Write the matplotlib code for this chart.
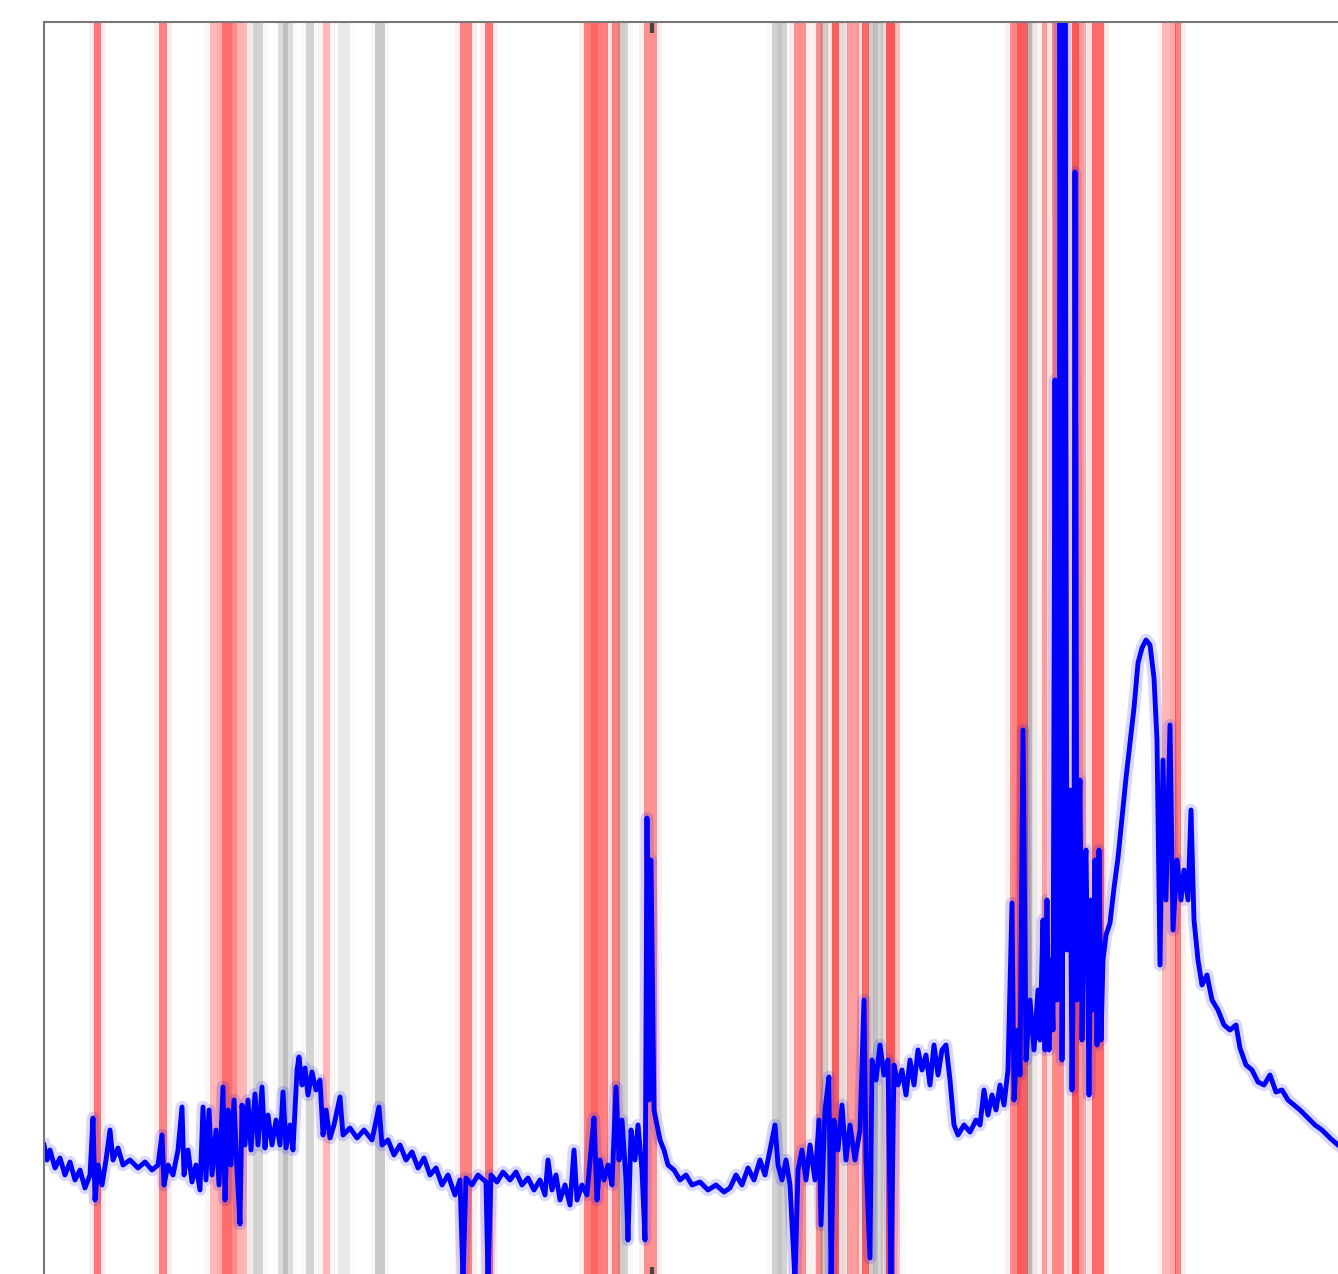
import numpy as np
import matplotlib
matplotlib.use("Agg")
import matplotlib.pyplot as plt

# time index (x) and signal value (y)
sig_x = [0, 0.6, 1.2, 2.2, 3.2, 4.2, 5.2, 6.2, 7.2, 8.2, 9.2, 9.8, 10.2, 10.8, 11.6, 12.4,
         13.2, 13.8, 14.8, 15.8, 17.2, 18.8, 20.2, 21.6, 22.8, 23.6, 24.0, 24.8, 25.8, 26.8,
         27.6, 28.0, 28.8, 29.6, 30.4, 31.2, 31.8, 32.4, 33.0, 33.6, 34.4, 35.0, 35.8, 36.2,
         36.8, 37.4, 38.0, 38.6, 39.2, 39.6, 40.2, 40.8, 41.4, 42.2, 42.8, 43.6, 44.2, 44.8,
         45.6, 46.4, 47.2, 47.8, 48.4, 49.2, 49.8, 50.6, 51.0, 51.6, 52.2, 52.8, 53.6, 54.4,
         55.2, 55.8, 56.4, 57.2, 58.0, 59.2, 59.8, 61.2, 62.6, 64.0, 65.6, 67.0, 67.6, 68.8,
         70.0, 71.2, 72.4, 73.6, 74.8, 76.0, 77.2, 78.4, 79.6, 80.8, 82.2, 83.2, 83.8, 84.4,
         85.6, 86.8, 88.4, 88.8, 89.4, 90.6, 91.8, 93.2, 94.4, 95.6, 96.8, 98.0, 99.2, 100.2,
         100.8, 101.6, 102.4, 103.2, 104.2, 105.2, 106.0, 106.6, 107.6, 108.6, 109.4, 110.0,
         110.6, 111.2, 112.0, 112.8, 113.6, 114.4, 115.0, 115.6, 116.4, 116.8, 117.4, 118.2,
         118.8, 119.6, 120.2, 120.6, 121.0, 121.4, 122.0, 122.6, 123.2, 124.0, 124.8, 126.0,
         127.2, 128.4, 129.6, 131.2, 132.8, 134.4, 136.0, 137.2, 138.4, 139.6, 140.8, 142.0,
         143.2, 144.2, 145.2, 146.2, 146.8, 147.6, 148.4, 149.2, 150.2, 150.8, 151.6, 152.4,
         153.2, 154.2, 155.0, 155.4, 156.2, 157.0, 157.4, 158.0, 158.8, 159.6, 160.4, 161.2,
         162.2, 163.2, 164.0, 164.4, 165.2, 165.6, 166.4, 167.2, 168.0, 168.8, 169.4, 170.0,
         170.8, 171.6, 172.4, 173.2, 174.0, 174.8, 175.6, 176.4, 177.2, 178.0, 178.8, 179.6,
         180.4, 181.2, 182.0, 182.8, 184.0, 185.2, 186.4, 187.2, 188.0, 188.8, 189.6, 190.4,
         191.2, 192.0, 192.8, 193.6, 194.0, 194.8, 195.2, 195.8, 196.4, 197.2, 198.0, 198.8,
         199.2, 199.8, 200.2, 200.6, 201.0, 201.4, 201.8, 202.2, 202.6, 203.0,
         203.2, 203.6, 204.0, 204.2, 204.6, 204.8, 205.2, 205.6, 206.0, 206.2,
         206.6, 207.0, 207.2, 207.6, 208.0, 208.4, 208.8, 209.0, 209.4, 209.8,
         210.2, 210.6, 211.0, 211.4, 211.8, 212.4, 213.2,
         214.0, 214.8, 215.6, 216.4, 217.2, 218.0, 218.8, 219.6, 220.4, 221.2, 222.0, 222.6,
         223.2, 223.8, 224.4, 225.2, 225.8, 226.6, 227.4, 228.0, 228.8, 229.4, 230.0, 230.8,
         231.6, 232.6, 233.6, 234.8, 236.0, 237.2, 238.4, 239.2, 240.4, 241.6, 242.8, 244.0,
         245.2, 246.4, 247.6, 248.8, 250.0, 251.2, 252.8, 254.2, 255.6, 257.2, 258.8, 260.2]
sig_y = [26.6, 23.6, 25.6, 22, 24, 20.6, 23.2, 19.6, 21.6, 18, 20.6, 32, 15.6, 22.6, 18.6, 23.6,
         29.6, 23.6, 26, 22.6, 23.6, 22, 23.2, 21.6, 22.6, 28.6, 18.6, 22.6, 20.6, 25.6,
         34.2, 20.6, 25.6, 19.2, 22.6, 17.6, 34.2, 19.6, 33.6, 20.6, 29.6, 18.6, 38.2, 15.6,
         33.6, 22.6, 35.6, 21.6, 10.8, 34.6, 26.6, 35.6, 25.6, 36.8, 26.6, 38.2, 26, 32.6,
         26.6, 31.6, 26.6, 37.2, 26, 30.6, 25.6, 41.6, 44.2, 38.6, 42, 36.6, 41.2, 37.6,
         39.6, 28.6, 33.6, 28, 30.6, 36.2, 28.6, 30, 28, 29.6, 27.6, 34.2, 26.6, 27.6,
         24.6, 26.6, 23.6, 25.2, 22, 24, 20.6, 22, 18.6, 20.6, 16.6, 19.6, -0.4, 20,
         18.6, 20.6, 19.2, -0.4, 20.6, 19.2, 21.2, 19.6, 21.2, 18.6, 20, 17.6, 19.6, 16.6,
         23.6, 17.6, 20.6, 15.6, 18.6, 14.6, 25.6, 15.6, 18.6, 16.6, 25.6, 32,
         15.6, 23.6, 19.6, 22.6, 18.6, 38.2, 23.6, 31.6, 19.6, 7.6, 29.6, 23.6,
         30.6, 21.6, 7.6, 92, 35.6, 83.6, 33.6, 30.6, 27.6, 25.6, 22.6, 21.6,
         19.6, 20.6, 18.6, 19.2, 17.6, 18.6, 17.2, 18, 20.6, 18.6, 22, 19.6,
         23.6, 20.6, 25.6, 30.6, 22.6, 19.6, 23.6, 18.6, -0.4, 21.6, 25.6, 19.6,
         26.6, 19.6, 31.6, 10.6, 33.6, 40.2, -0.4, 31.6, 25.6, 34.6, 23.6, 30.6,
         23.6, 29.6, 55.6, 23.6, 4.0, 43.6, 39.6, 46.6, 40.6, 43.6, -0.4, 42.6,
         38.6, 41.6, 36.6, 43.6, 38.6, 45.6, 41.6, 44.6, 38.6, 46.6, 40.6, 45.6,
         46.6, 39.6, 30.6, 28.6, 30.6, 29.2, 31.6, 30.6, 37.6, 32.6, 36.6, 33.6,
         38.6, 34.6, 41.6, 75, 35.6, 49.6, 40.6, 109.6, 43.6, 55.6, 45.6, 57.6,
         47.6, 71.6, 45.6, 75.6, 45.6, 63.6, 49.6, 179.6, 55.6, 95.6,
         252, 43.6, 115.6, 252, 65.6, 85.6, 97.6, 37.6, 75.6, 221.2,
         55.6, 91.6, 99.6, 47.6, 79.6, 85.6, 55.6, 36.6, 75.6, 53.6,
         83.6, 46.6, 85.6, 47.6, 63.6, 68.6, 71,
         78, 84, 92, 100, 107, 114, 123, 126, 127.6, 126.6, 120, 107.6,
         62.6, 103.6, 75.6, 110.6, 69.6, 83.6, 75.6, 81.6, 75.6, 93.6, 71.6, 63.6,
         58.6, 60.6, 55.6, 53.6, 50.6, 49.6, 50.6, 46, 42.6, 41.6, 39.2, 38.6,
         40.6, 37.2, 37.6, 35.6, 34.6, 33.6, 32, 30.6, 29.6, 28, 26.6, 25.6]

# shaded periods: (start, end, opacity)
red_spans = [(10.0, 11.4, 0.5), (23.0, 24.6, 0.45),
             (33.2, 40.6, 0.25), (35.6, 38.6, 0.2), (35.6, 37.6, 0.2),
             (55.8, 57.2, 0.25), (83.2, 85.6, 0.45), (88.2, 89.8, 0.5),
             (108.0, 112.8, 0.45), (109.4, 110.8, 0.2), (113.6, 115.2, 0.45),
             (120.0, 122.6, 0.4), (150.0, 152.4, 0.4), (154.4, 155.8, 0.4),
             (157.6, 159.0, 0.6), (160.6, 163.0, 0.35), (163.6, 165.0, 0.55),
             (168.4, 170.2, 0.62), (170.2, 171.2, 0.15),
             (193.2, 194.6, 0.4), (194.6, 196.8, 0.6), (199.6, 200.6, 0.35),
             (201.6, 202.8, 0.4), (202.8, 204.0, 0.4), (205.6, 207.0, 0.62),
             (207.0, 208.4, 0.3), (209.6, 212.0, 0.55),
             (223.6, 226.4, 0.25), (226.2, 227.4, 0.45)]
gray_spans = [(40.8, 41.8, 0.05), (41.8, 43.8, 0.31), (46.8, 49.8, 0.2), (47.8, 48.8, 0.3),
              (52.4, 54.0, 0.3), (58.8, 61.2, 0.15), (66.2, 68.2, 0.37),
              (114.8, 116.8, 0.3), (145.6, 148.6, 0.3), (146.6, 147.6, 0.15),
              (155.2, 156.8, 0.3), (158.8, 160.8, 0.12), (164.8, 167.8, 0.25),
              (165.8, 166.8, 0.25), (167.2, 168.2, 0.08),
              (196.6, 197.6, 0.45), (197.6, 198.6, 0.1)]

tick_pos = [121.6]

fig = plt.figure(figsize=(13.38, 12.74), dpi=100)
ax = fig.add_axes([44 / 1338, -4 / 1274, 1350 / 1338, 1256 / 1274])

for a, b, al in red_spans:
    ax.axvspan(a - 1, b + 1, color='red', alpha=al * 0.15, lw=0)
    ax.axvspan(a, b, color='red', alpha=al, lw=0)
for a, b, al in gray_spans:
    ax.axvspan(a - 1, b + 1, color='gray', alpha=al * 0.15, lw=0)
    ax.axvspan(a, b, color='gray', alpha=al, lw=0)

# soft halo + core line
ax.plot(sig_x, sig_y, color='blue', lw=9, alpha=0.15)
ax.plot(sig_x, sig_y, color='blue', lw=3.5)

ax.set_xlim(0, 270)
ax.set_ylim(0, 251.2)
ax.set_xticks(tick_pos)
ax.set_xticklabels([])
ax.set_yticks([])
ax.tick_params(axis='x', direction='in', top=True, bottom=True, length=8, width=3,
               color='#444444')
for s in ax.spines.values():
    s.set_color('#777777')
    s.set_linewidth(1.5)

fig.savefig('out.png', dpi=100)
